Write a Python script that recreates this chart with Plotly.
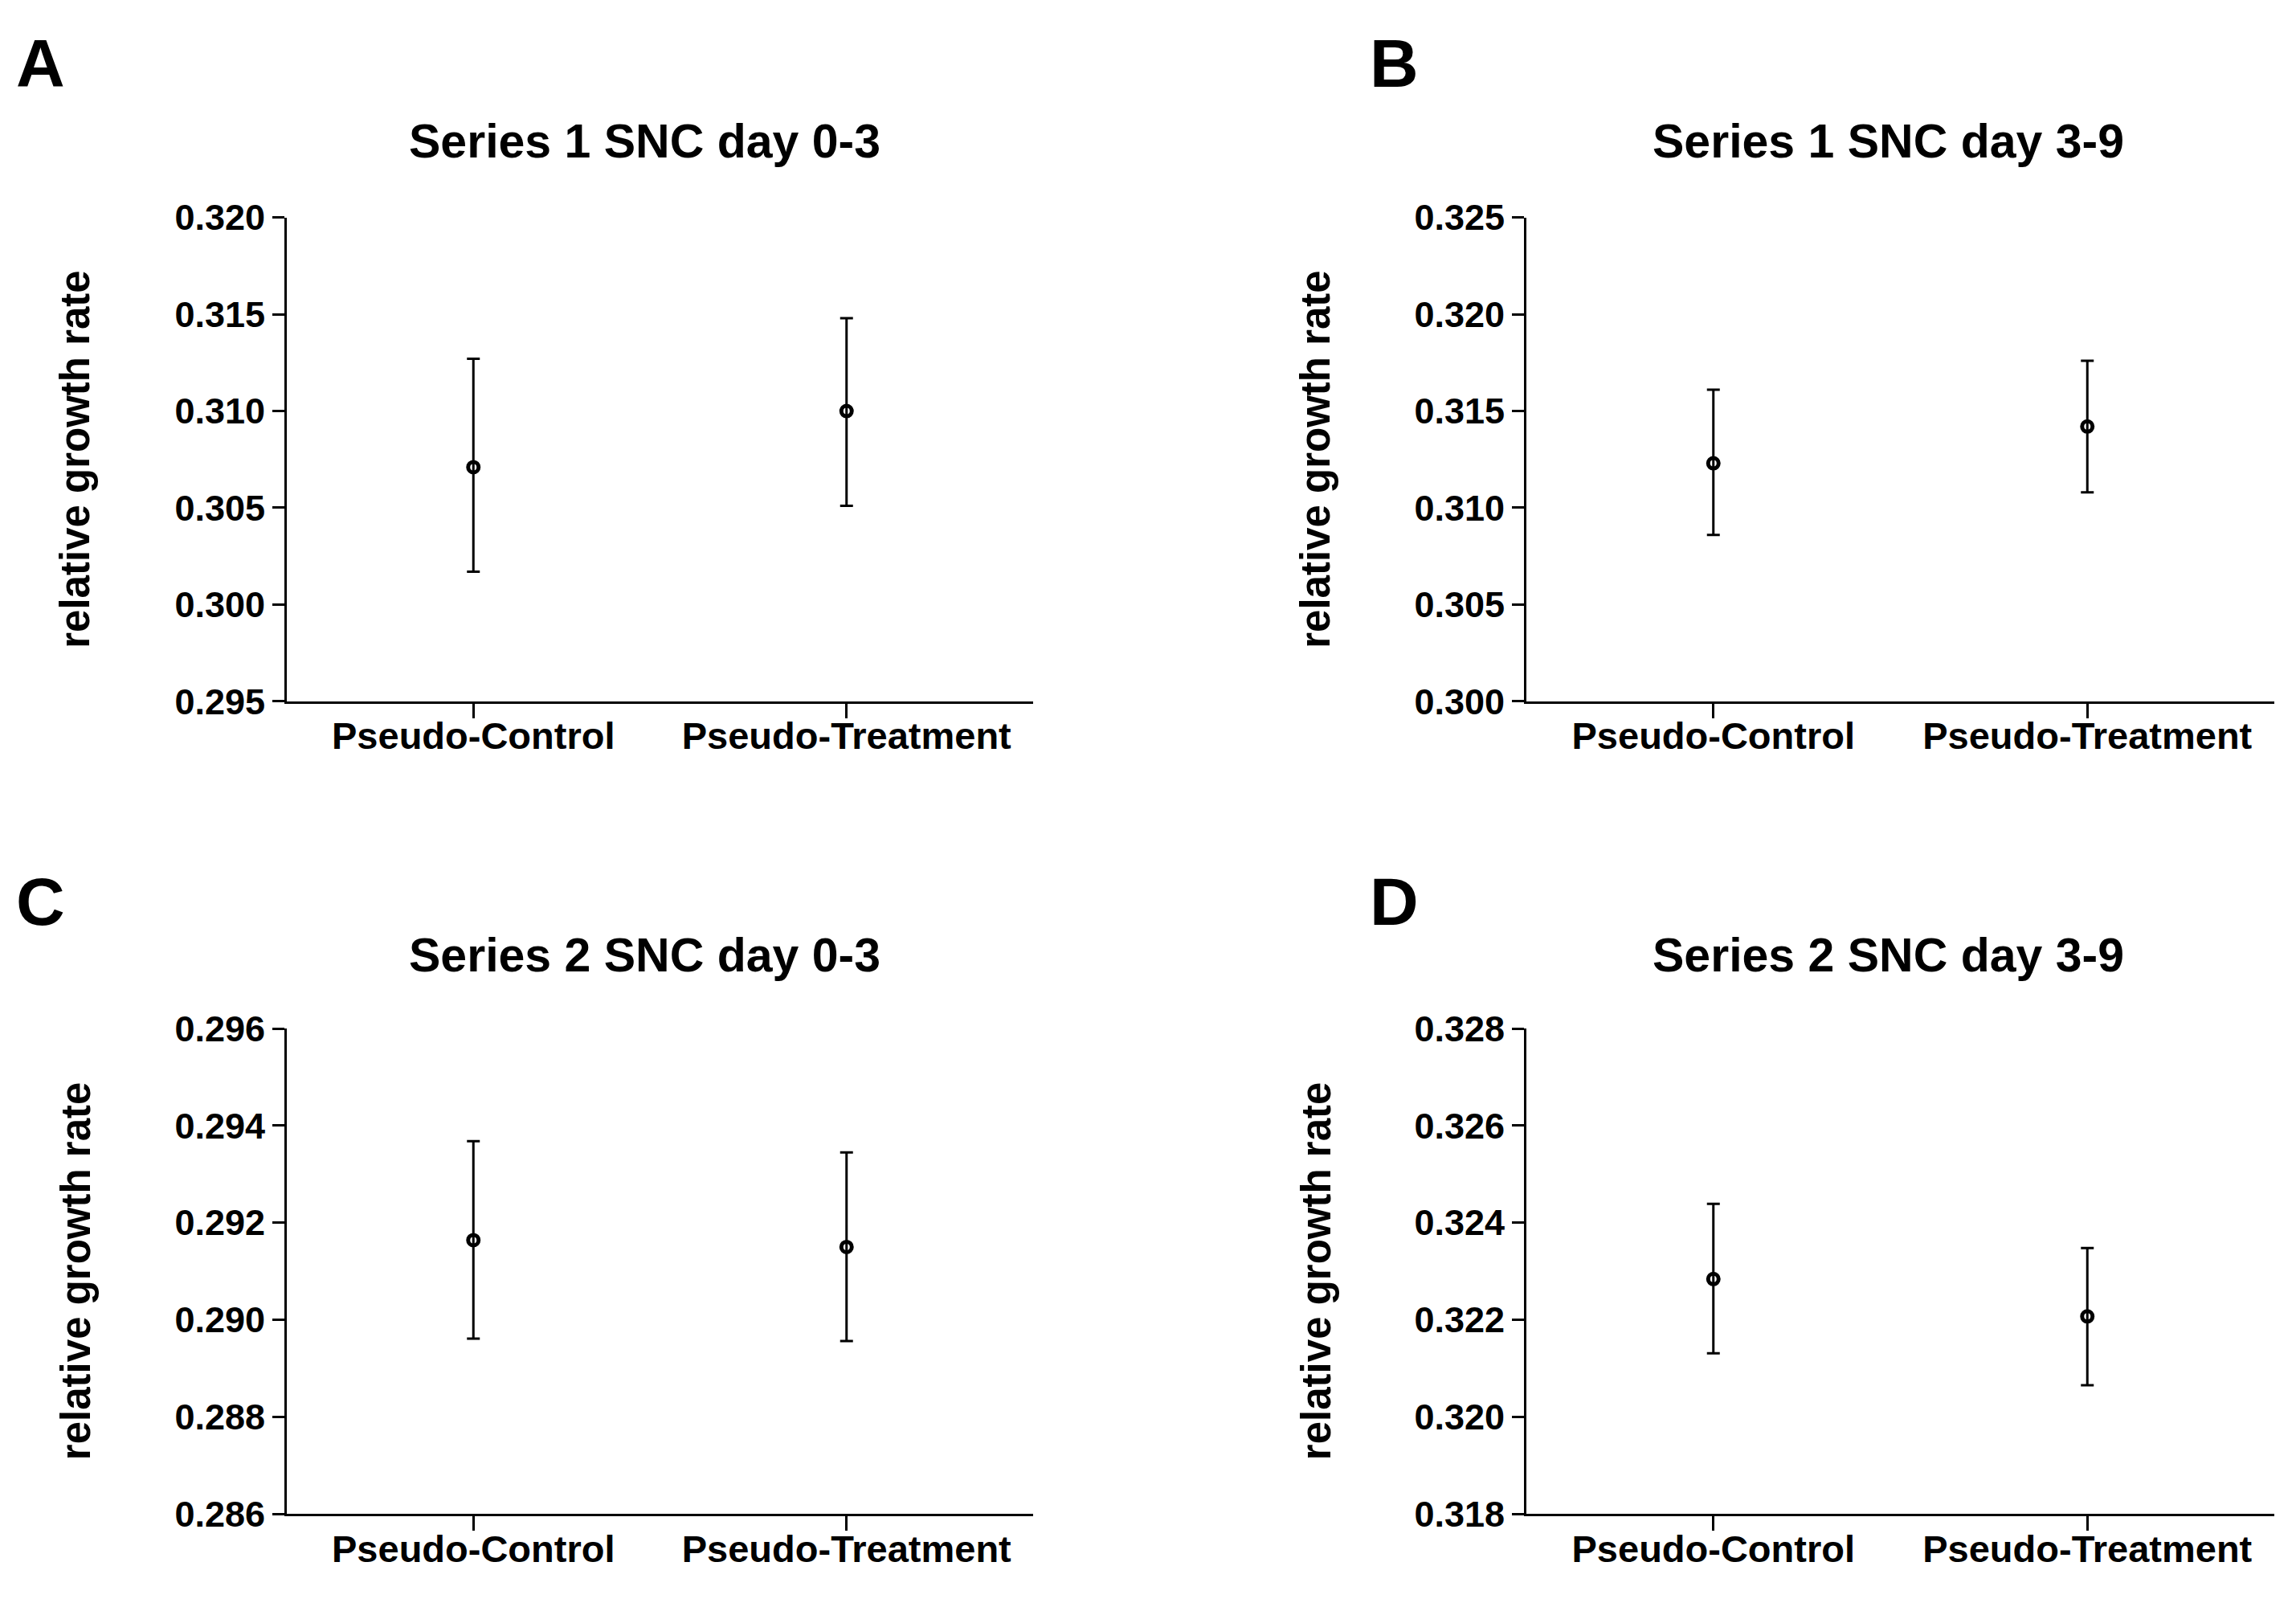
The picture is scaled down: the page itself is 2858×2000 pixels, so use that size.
import plotly.graph_objects as go

categories = ["Pseudo-Control", "Pseudo-Treatment"]
panel_letters = ["A", "B", "C", "D"]
panel_titles = ["Series 1 SNC day 0-3", "Series 1 SNC day 3-9",
                "Series 2 SNC day 0-3", "Series 2 SNC day 3-9"]
y_label = "relative growth rate"

means_A = [0.3071, 0.3100]
err_up_A = [0.0056, 0.0048]
err_dn_A = [0.0054, 0.0049]

means_B = [0.3123, 0.3142]
err_up_B = [0.0038, 0.0034]
err_dn_B = [0.0037, 0.0034]

means_C = [0.29164, 0.29150]
err_up_C = [0.00204, 0.00195]
err_dn_C = [0.00203, 0.00194]

means_D = [0.32284, 0.32207]
err_up_D = [0.00155, 0.00141]
err_dn_D = [0.00153, 0.00142]

ticks_A = [0.295, 0.300, 0.305, 0.310, 0.315, 0.320]
ticks_B = [0.300, 0.305, 0.310, 0.315, 0.320, 0.325]
ticks_C = [0.286, 0.288, 0.290, 0.292, 0.294, 0.296]
ticks_D = [0.318, 0.320, 0.322, 0.324, 0.326, 0.328]

# page is 2858x2000; the browser body has an 8px margin, so the figure is
# made 16px smaller and all page positions are shifted by that margin
PAGE_W, PAGE_H = 2858, 2000
OFF = 8
W, H = PAGE_W - 2 * OFF, PAGE_H - 2 * OFF
FONT = "Liberation Sans"


def px(x):
    return (x - OFF) / W


def py(y):
    return 1 - (y - OFF) / H


panels = [
    (means_A, err_up_A, err_dn_A, ticks_A),
    (means_B, err_up_B, err_dn_B, ticks_B),
    (means_C, err_up_C, err_dn_C, ticks_C),
    (means_D, err_up_D, err_dn_D, ticks_D),
]

# plot areas in page pixels: (x0, x1, ytop, ybottom)
boxes = [
    (357, 1286, 252, 870),
    (1900, 2831, 252, 870),
    (357, 1286, 1288, 1908),
    (1900, 2831, 1288, 1908),
]
title_x = [803, 2350, 803, 2350]
title_y = [155, 155, 1194, 1194]
letter_x = [18, 1703, 18, 1703]
letter_y = [55, 55, 1126, 1126]
ylab_x = [94, 1638, 94, 1638]

fig = go.Figure()
layout = dict(
    width=W, height=H, margin=dict(l=0, r=0, t=0, b=0),
    paper_bgcolor="white", plot_bgcolor="white", showlegend=False,
    font=dict(family=FONT, color="black"),
)
annotations = []
for i, ((m, eu, ed, tv), (x0, x1, yt, yb)) in enumerate(zip(panels, boxes)):
    n = "" if i == 0 else str(i + 1)
    fig.add_trace(go.Scatter(
        x=categories, y=m, mode="markers",
        xaxis="x" + n, yaxis="y" + n,
        marker=dict(symbol="circle-open", size=13, color="black",
                    line=dict(width=5, color="black")),
        error_y=dict(type="data", array=eu, arrayminus=ed, symmetric=False,
                     color="black", thickness=3, width=8),
    ))
    layout["xaxis" + n] = dict(
        domain=[px(x0), px(x1)], anchor="y" + n, type="category", range=[-0.5, 1.5],
        showline=True, linecolor="black", linewidth=3, mirror=False,
        ticks="outside", ticklen=18, tickwidth=3, tickcolor="black",
        ticklabelstandoff=-18,
        showgrid=False, zeroline=False,
        tickfont=dict(family=FONT, size=47, color="black", weight="bold"),
    )
    layout["yaxis" + n] = dict(
        domain=[py(yb), py(yt)], anchor="x" + n, range=[tv[0], tv[-1]],
        tickvals=tv, tickformat=".3f",
        showline=True, linecolor="black", linewidth=3, mirror=False,
        ticks="outside", ticklen=15, tickwidth=3, tickcolor="black",
        showgrid=False, zeroline=False,
        tickfont=dict(family=FONT, size=45, color="black", weight="bold"),
    )
    annotations.append(dict(
        text="<b>" + panel_titles[i] + "</b>", x=px(title_x[i]), y=py(title_y[i]),
        xref="paper", yref="paper", xanchor="center", yanchor="middle", showarrow=False,
        font=dict(family=FONT, size=59, color="black"),
    ))
    annotations.append(dict(
        text="<b>" + panel_letters[i] + "</b>", x=px(letter_x[i]), y=py(letter_y[i]),
        xref="paper", yref="paper", xanchor="left", yanchor="middle", showarrow=False,
        font=dict(family=FONT, size=84, color="black"),
    ))
    annotations.append(dict(
        text="<b>" + y_label + "</b>", x=px(ylab_x[i]), y=py((yt + yb) / 2),
        xref="paper", yref="paper", xanchor="center", yanchor="middle", showarrow=False,
        textangle=-90, font=dict(family=FONT, size=51, color="black"),
    ))

layout["annotations"] = annotations
fig.update_layout(**layout)
fig.write_html("out.html")
